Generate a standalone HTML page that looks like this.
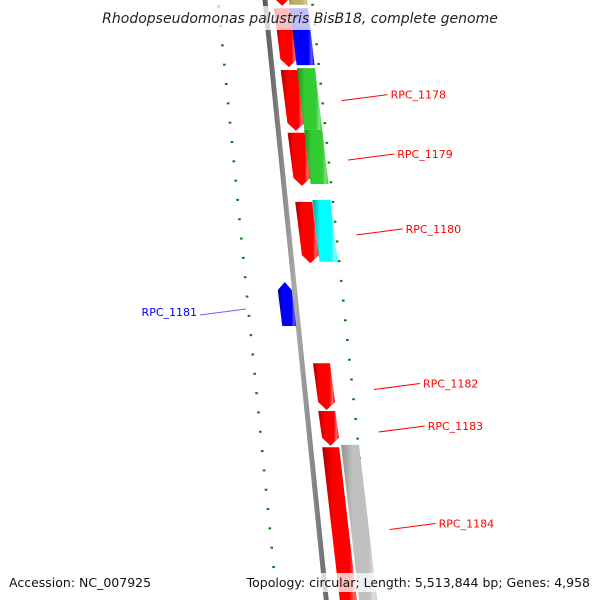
<!DOCTYPE html>
<html><head><meta charset="utf-8"><style>
body{margin:0;background:#fff;}
svg{display:block;font-family:"DejaVu Sans","Liberation Sans",sans-serif;}
</style></head><body>
<svg id="c" width="600" height="600" viewBox="0 0 600 600" xmlns="http://www.w3.org/2000/svg">
<defs>
<linearGradient id="gBack" x1="0" x2="1"><stop offset="0" stop-color="#555"/><stop offset="0.5" stop-color="#aaa"/><stop offset="1" stop-color="#666"/></linearGradient>
</defs>
<g id="layer"></g>
</svg>
<script>
// data (kbp)
const geneStart=[1279.25,1279.83,1281.11,1282.41,1283.84,1287.18,1288.17,1288.92,1279.25,1279.83,1281.07,1282.35,1283.80,1288.87,1285.50];
const geneEnd  =[1279.78,1281.05,1282.37,1283.51,1285.11,1288.15,1288.89,1292.60,1279.76,1281.01,1282.35,1283.47,1285.08,1292.30,1286.41];
const geneTrack=[1,1,1,1,1,1,1,1,2,2,2,2,2,2,0];
const geneColor=["red","red","red","red","red","red","red","red","olive","blue","green","green","cyan","gray","blue"];
const labelNames=["RPC_1178","RPC_1179","RPC_1180","RPC_1181","RPC_1182","RPC_1183","RPC_1184"];
const labelKbp=[1281.62,1282.85,1284.40,1286.10,1287.60,1288.48,1290.50];
const labelSide=[1,1,1,-1,1,1,1];
const majorTicks=[1280,1282,1284,1286,1288,1290,1292];

const NS="http://www.w3.org/2000/svg";
const L=document.getElementById('layer');
function el(t,a,p){const e=document.createElementNS(NS,t);for(const k in a)e.setAttribute(k,a[k]);(p||L).appendChild(e);return e;}
const yS=k=>113+(k-1282)*48.3;          // left ruler / gene scale
const yR=k=>97+(k-1281.67)*49.3;        // right ruler scale
const bx=y=>265+0.102*y;                // backbone centre
const palette={red:["#a00","#f00","#ff6a6a"],olive:["#8a7f3a","#bdb06a","#d8cf95"],blue:["#00008a","#0000ff","#5a5aff"],green:["#1f8f1f","#33cc33","#7fe07f"],cyan:["#00a0a0","#00ffff","#9affff"],gray:["#909090","#c0c0c0","#e0e0e0"]};
const defs=document.querySelector('defs');
for(const c in palette){const g=el('linearGradient',{id:'g_'+c,x1:0,x2:1},defs);
 el('stop',{offset:0,'stop-color':palette[c][0]},g);el('stop',{offset:0.3,'stop-color':palette[c][1]},g);
 el('stop',{offset:0.75,'stop-color':palette[c][1]},g);el('stop',{offset:0.88,'stop-color':palette[c][2]},g);el('stop',{offset:1,'stop-color':palette[c][1]},g);}

// backbone
const bb=el('polygon',{points:`${bx(-5)-2.5},-5 ${bx(-5)+2.5},-5 ${bx(605)+2.5},605 ${bx(605)-2.5},605`,fill:'url(#gBack)'});



// rulers
for(let k=1279;k<=1293.001;k+=0.4){
 const kk=Math.round(k*10)/10;const major=Math.abs(kk/2-Math.round(kk/2))<0.01;
 const y=yS(kk);if(y>-5&&y<605){const x=218+0.098*y;
  const t=el('line',{x1:x-(major?4:1.3),y1:y+ (major?0.4:0),x2:x+(major?4:1.3),y2:y-(major?0.4:0),stroke:'#008000','stroke-width':2});
  
  
  if(major){const lb=el('text',{x:x-8,y:y+3,'font-size':9,'text-anchor':'end',fill:'#222'});lb.textContent=kk+' kbp';
   
   
   if(y<30)lb.setAttribute('fill','#ddd');}}
 const yr=yR(kk);if(yr>-5&&yr<605){const x=312+0.104*yr;
  const t=el('line',{x1:x-(major?4:1.3),y1:yr+(major?0.4:0),x2:x+(major?4:1.3),y2:yr-(major?0.4:0),stroke:'#008000','stroke-width':2});
  
  }
}

// genes
function trackX(tr,y){if(tr===1)return[bx(y)+8+0.008*y,17];if(tr===2)return[bx(y)+24+0.015*y,18];return[bx(y)-16,14];}
for(let i=0;i<geneStart.length;i++){
 const y1=yS(geneStart[i]),y2=yS(geneEnd[i]),tr=geneTrack[i];
 const [a1,w1]=trackX(tr,y1),[a2,w2]=trackX(tr,y2);let pts;
 const arrow=(geneColor[i]!=='gray'&&tr!==2)?8:0;
 if(tr===0){ // reverse: arrow up
  pts=`${a1+w1/2},${y1} ${a1+w1},${y1+arrow} ${a2+w2},${y2} ${a2},${y2} ${a1},${y1+arrow}`;
 }else if(arrow){
  pts=`${a1},${y1} ${a1+w1},${y1} ${a2+w2},${y2-arrow} ${a2+w2/2},${y2} ${a2},${y2-arrow}`;
 }else{pts=`${a1},${y1} ${a1+w1},${y1} ${a2+w2},${y2} ${a2},${y2}`;}
 const g=el('polygon',{points:pts,fill:'url(#g_'+geneColor[i]+')'});
 
 
}

// labels
for(let i=0;i<labelNames.length;i++){
 const y=yS(labelKbp[i]);
 if(labelSide[i]>0){const x0=bx(y)+66+0.01*y;
  el('line',{x1:x0,y1:y+6,x2:x0+46,y2:y,stroke:'red','stroke-width':1});
  const t=el('text',{x:x0+49,y:y+4,'font-size':11,fill:'red'});t.textContent=labelNames[i];
  
  
 }else{
  el('line',{x1:200,y1:y+4,x2:246,y2:y-2,stroke:'#66f','stroke-width':1});
  const t=el('text',{x:197,y:y+5,'font-size':11,fill:'blue','text-anchor':'end'});t.textContent=labelNames[i];
  
  
 }
}
</script>
<svg width="600" height="600" style="position:absolute;left:0;top:0" xmlns="http://www.w3.org/2000/svg">
<rect x="100" y="6" width="400" height="24" fill="rgba(255,255,255,0.75)"/>
<text x="300" y="23" text-anchor="middle" font-size="14" font-style="italic" fill="#222" font-family="DejaVu Sans, Liberation Sans, sans-serif">Rhodopseudomonas palustris BisB18, complete genome</text>
<rect x="5" y="573" width="130" height="19" fill="rgba(255,255,255,0.75)"/>
<text x="9" y="587" font-size="12.5" fill="#111" font-family="DejaVu Sans, Liberation Sans, sans-serif">Accession: NC_007925</text>
<rect x="257" y="573" width="337" height="19" fill="rgba(255,255,255,0.75)"/>
<text x="590" y="587" text-anchor="end" font-size="12.5" fill="#111" font-family="DejaVu Sans, Liberation Sans, sans-serif">Topology: circular; Length: 5,513,844 bp; Genes: 4,958</text>
</svg>
</body></html>
